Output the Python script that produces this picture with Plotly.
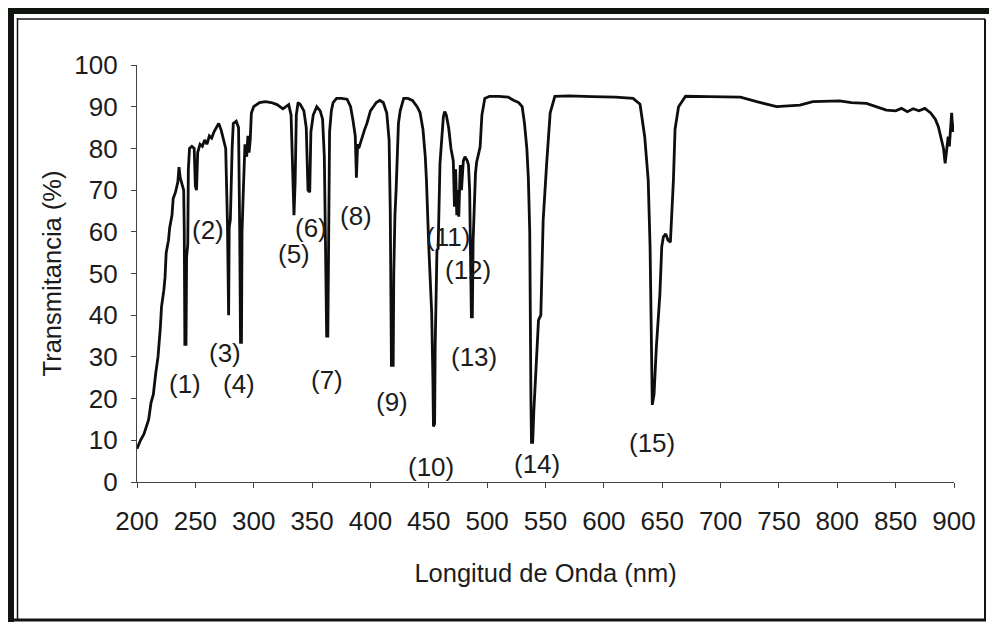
import plotly.graph_objects as go

# ---- data ----
wavelength = [200, 203, 206, 208, 210, 212, 214, 216, 218, 220, 221, 223, 224, 225, 227, 228, 230, 231, 233, 235,
              236, 237, 238, 240, 240.5, 241, 242, 242.5, 243.5, 244, 245, 247, 249, 250, 251, 252, 254, 256, 258, 260,
              262, 264, 266, 268, 270, 272, 274, 276, 277.5, 278, 278.5, 279, 280, 281.5, 282.5, 285, 287, 288, 288.7, 289.5,
              290, 291, 292.5, 294, 295, 296, 297, 298, 300, 305, 310, 315, 320, 325, 330, 332, 333.5, 334.5, 335.5, 336.5,
              338, 340, 343, 345, 346.5, 348, 349, 351, 354, 357, 359, 360.5, 361.5, 362, 362.5, 363.5, 364, 365, 366.5, 368,
              371, 375, 380, 383, 385, 387, 388, 389, 390, 392, 395, 397, 400, 402.5, 405, 408, 411, 414, 416, 417,
              418, 419.5, 420, 421, 422, 424, 425.5, 428.5, 432, 436, 440, 442.5, 445, 447, 448, 450, 452.5, 453.5, 454, 455,
              455.5, 457, 458, 459.6, 461, 462.5, 463.6, 465, 467, 469, 471, 472, 473, 474, 475, 475.7, 477, 478, 479.6, 481,
              483, 484, 485, 486.5, 487.3, 488, 490, 491, 494, 495.5, 498, 502, 510, 518, 523, 527, 530, 532, 534, 535.3,
              536.5, 536.8, 537.5, 538, 539, 540, 542, 544, 546, 548, 551, 554, 558, 570, 590, 610, 625, 631, 635, 638,
              639.6, 641, 641.5, 643, 645, 648, 649.6, 651, 653, 655, 657, 659.6, 661, 664, 670, 690, 717, 731, 748, 768,
              779, 802, 812, 825, 842, 850, 855, 860, 865, 870, 875, 880, 884, 886.6, 888, 889.5, 891, 892.4, 893.5, 895,
              896, 897, 898, 899, 900]
transmittance = [8, 10, 11.5, 13, 15, 19, 21, 26, 30, 37, 42, 46, 49, 55, 58, 61, 64, 68, 69.5, 72,
                 75.5, 73, 72, 70, 60, 33, 33, 54, 57, 75, 80, 80.5, 80, 71, 70, 79, 81, 80.5, 82, 81,
                 83, 82.5, 84, 85, 86, 84.5, 82.5, 80, 62, 40, 40, 61, 63, 80, 86, 86.5, 85, 60, 33.5, 33.5,
                 60, 69, 81, 78, 83, 79, 82, 88.5, 90, 91, 91.2, 91, 90.5, 89.5, 90.5, 88, 75, 64, 72, 88,
                 91, 90.5, 89, 85, 70, 69.5, 84, 88, 90, 89, 87, 78, 57, 46, 35, 35, 60, 84, 89, 91,
                 92, 92, 91.8, 90, 86.8, 83, 73, 81, 80, 82, 84.5, 86, 89, 90, 91, 91.5, 91, 88.5, 82, 65,
                 28, 28, 50, 64, 70, 86, 89, 92, 92, 91.5, 90, 88.6, 84.6, 78, 72.4, 56.4, 40.5, 25, 13.3, 14,
                 33, 55.6, 56, 76.4, 82, 87.6, 88.8, 88, 85, 80, 77, 66, 75, 64, 70, 63.6, 76, 70, 77, 78,
                 77, 76, 70, 39.6, 39.6, 58, 74, 76.7, 80.4, 88, 92, 92.5, 92.5, 92.3, 91.5, 91, 90, 86, 80, 73,
                 60, 41, 20, 9.5, 9.5, 17, 28, 38.8, 40, 62.8, 76.4, 88.5, 92.5, 92.6, 92.4, 92.3, 92, 90.6, 82.8, 72.4,
                 56.4, 22.9, 18.5, 21, 32.5, 45, 56.4, 58.8, 59.5, 58, 57.5, 72.4, 84.6, 90, 92.5, 92.4, 92.3, 91.2, 90, 90.4,
                 91.2, 91.4, 91, 90.8, 89.2, 89, 89.6, 88.8, 89.5, 89, 89.6, 88.5, 87, 85.2, 83.5, 82, 80, 76.4, 79.5, 82.8,
                 80.5, 86, 88.5, 84, 86]

peak_labels = ["(1)", "(2)", "(3)", "(4)", "(5)", "(6)", "(7)", "(8)", "(9)", "(10)",
               "(11)", "(12)", "(13)", "(14)", "(15)"]
label_x = [241.1, 260.8, 275.5, 287.4, 334.3, 349.3, 362.5, 387.4, 418.3, 451.5,
           466.5, 483.5, 488.9, 543.0, 641.3]
label_y = [23.5, 60.4, 30.9, 23.5, 54.6, 61.0, 24.4, 63.8, 19.1, 3.5,
           58.8, 50.8, 29.9, 4.4, 9.4]

x_ticks = list(range(200, 901, 50))
y_ticks = list(range(0, 101, 10))

FONT = "Liberation Sans, Arial, sans-serif"
TXT = "#1c1c1c"

# plot-area pixel geometry
L, R, T, B = 137, 954, 65, 482
W, H = 989, 624


def px(x):
    return (x - L) / (R - L)


def py(y):
    return (B - y) / (B - T)


fig = go.Figure()
fig.add_trace(go.Scatter(x=wavelength, y=transmittance, mode="lines",
                         line=dict(color="#0e0e0e", width=2.8), hoverinfo="x+y",
                         showlegend=False))

for t, xv, yv in zip(peak_labels, label_x, label_y):
    fig.add_annotation(x=xv, y=yv, text=t, showarrow=False,
                       font=dict(family=FONT, size=26, color=TXT))

# scanned double frame
frame = [
    dict(x0=11, y0=8, x1=11, y1=622, w=6),
    dict(x0=8, y0=11, x1=989, y1=11, w=6),
    dict(x0=17.5, y0=18, x1=17.5, y1=620, w=1.5),
    dict(x0=17, y0=19, x1=985, y1=19, w=1.5),
    dict(x0=985, y0=19, x1=985, y1=621, w=2),
    dict(x0=8, y0=620, x1=986, y1=620, w=3),
]
for f in frame:
    fig.add_shape(type="line", xref="paper", yref="paper",
                  x0=px(f["x0"]), x1=px(f["x1"]), y0=py(f["y0"]), y1=py(f["y1"]),
                  line=dict(color="#101510", width=f["w"]))

fig.update_layout(
    width=W, height=H,
    margin=dict(l=L, r=W - R, t=T, b=H - B),
    paper_bgcolor="white", plot_bgcolor="white",
    font=dict(family=FONT, size=26, color=TXT),
    xaxis=dict(range=[200, 900], tickvals=x_ticks, ticks="outside", ticklen=5,
               tickwidth=1.2, tickcolor="#444", showline=True, linecolor="#444",
               linewidth=1.3, showgrid=False, zeroline=False,
               ticklabelstandoff=11,
               tickfont=dict(size=26, color=TXT),
               title=dict(text="Longitud de Onda (nm)", font=dict(size=25.5, color=TXT),
                          standoff=28)),
    yaxis=dict(range=[0, 100], tickvals=y_ticks, ticks="outside", ticklen=5,
               tickwidth=1.2, tickcolor="#444", showline=True, linecolor="#444",
               linewidth=1.3, showgrid=False, zeroline=False,
               ticklabelstandoff=8,
               tickfont=dict(size=26, color=TXT),
               title=dict(text="Transmitancia (%)", font=dict(size=25.5, color=TXT),
                          standoff=5)),
)

fig.write_html("out.html", config={"displayModeBar": False},
               post_script="document.body.style.margin='0px';document.body.style.overflow='hidden';")
